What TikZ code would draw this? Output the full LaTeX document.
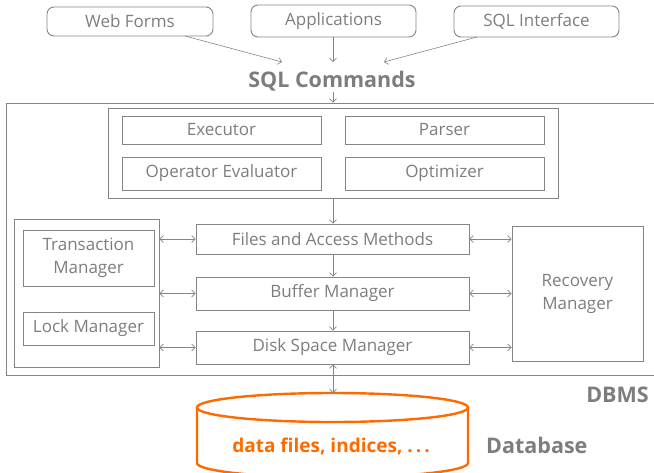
\documentclass[tikz,border=0pt]{standalone}
\usepackage{fontspec}
\setmainfont{Open Sans}
\usetikzlibrary{arrows.meta}
\definecolor{txt}{HTML}{7D7D7D}
\definecolor{ln}{HTML}{858585}
\definecolor{org}{HTML}{FF6A00}
\tikzset{
  box/.style={draw=ln, line width=0.9pt, text=txt, font=\fontsize{17}{23}\selectfont, inner sep=0pt},
  rbox/.style={box, rounded corners=7pt},
  frame/.style={draw=ln, line width=0.9pt, inner sep=0pt},
  arr/.style={draw=ln, line width=0.6pt, ->},
  darr/.style={draw=ln, line width=0.6pt, <->},
  big/.style={text=txt, font=\fontsize{21.5}{24}\selectfont\bfseries, inner sep=0pt},
}
\begin{document}
\begin{tikzpicture}[x=1pt,y=-1pt, >={Straight Barb[length=3.5pt,width=7pt]}]
\useasboundingbox (0,0) rectangle (654,472);
% top inputs
\node[rbox, minimum width=166pt, minimum height=29pt] (web) at (130,21.5) {Web Forms};
\node[rbox, minimum width=165pt, minimum height=32pt] (app) at (333.5,21) {Applications};
\node[rbox, minimum width=165pt, minimum height=31pt] (sqli) at (536.5,21.5) {SQL Interface};
\node[big, anchor=base] (sqlc) at (332,87) {SQL Commands};
\coordinate (c1) at (282,62);
\coordinate (c2) at (333,62);
\coordinate (c3) at (384,62);
\draw[arr] (185,36) -- (c1);
\draw[arr] (app.south -| c2) -- (c2);
\draw[arr] (477,37) -- (c3);
% DBMS frame (right edge lies outside the picture)
\node[frame, minimum width=694pt, minimum height=272pt] (dbms) at (353,239) {};
\coordinate (d0) at (333,92);
\draw[arr] (d0) -- (dbms.north -| d0);
% query box
\node[frame, minimum width=450pt, minimum height=90pt] (qb) at (333,153) {};
\node[box, minimum width=199pt, minimum height=28pt] (exe) at (221.5,130) {Executor};
\node[box, minimum width=199pt, minimum height=28pt] (par) at (444.5,130) {Parser};
\node[box, minimum width=199pt, minimum height=33pt] (ope) at (221.5,173.5) {Operator Evaluator};
\node[box, minimum width=199pt, minimum height=33pt] (opt) at (444.5,173.5) {Optimizer};
% middle stack
\node[box, minimum width=273pt, minimum height=30pt] (fam) at (332.5,239) {Files and Access Methods};
\node[box, minimum width=273pt, minimum height=33pt] (bm) at (332.5,293.5) {Buffer Manager};
\node[box, minimum width=273pt, minimum height=33pt] (dsm) at (332.5,347.5) {Disk Space Manager};
\draw[arr] (qb.south -| 333,0) -- (fam.north -| 333,0);
\draw[arr] (fam.south -| 333,0) -- (bm.north -| 333,0);
\draw[arr] (bm.south -| 333,0) -- (dsm.north -| 333,0);
% left group
\node[frame, minimum width=145pt, minimum height=148pt] (lg) at (86.5,293) {};
\node[box, minimum width=131pt, minimum height=56pt, align=center] (tm) at (88.5,258) {Transaction\\Manager};
\node[box, minimum width=131pt, minimum height=33pt] (lm) at (88.5,328.5) {Lock Manager};
% recovery
\node[box, minimum width=131pt, minimum height=135pt, align=center] (rm) at (577.5,293.5) {Recovery\\Manager};
% side arrows
\foreach \n in {fam,bm,dsm}{
  \draw[darr] (\n.west -| lg.east) -- (\n.west);
  \draw[darr] (\n.east) -- (\n.east -| rm.west);
}
% database cylinder
\draw[org, line width=2.4pt] (332.5,407.5) ellipse [x radius=135.5, y radius=14.5];
\draw[org, line width=2.4pt] (197,407.5) -- (197,463) arc[start angle=180, end angle=0, x radius=135.5, y radius=14.5] -- (468,407.5);
\coordinate (dbtop) at (333,393);
\node[text=org, font=\fontsize{19}{22}\selectfont\bfseries, anchor=base] (dtxt) at (331,452) {data files, indices, .\hspace{3pt}.\hspace{3pt}.};
\draw[darr] (dsm.south -| dbtop) -- (dbtop);
\node[big, anchor=base east] (dbmsl) at (649,402) {DBMS};
\node[big, anchor=base west] (dbl) at (486,453) {Database};
\end{tikzpicture}
\end{document}
